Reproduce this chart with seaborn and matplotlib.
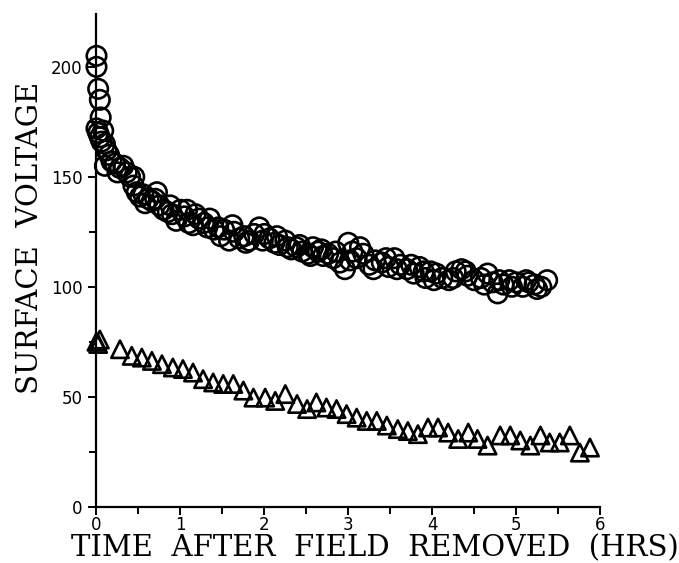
import matplotlib
matplotlib.use("Agg")
import matplotlib.pyplot as plt
import seaborn as sns
import pandas as pd
from matplotlib.ticker import MultipleLocator

# Circles (upper series)
circle_hours = [0.00, 0.00, 0.02, 0.04, 0.05, 0.00, 0.02, 0.04, 0.06, 0.08,
                0.10, 0.12, 0.10, 0.18, 0.22, 0.28, 0.32, 0.36, 0.40, 0.44,
                0.48, 0.52, 0.56, 0.62, 0.66, 0.70, 0.75, 0.80, 0.85, 0.90,
                0.95, 1.00, 1.05, 1.10, 1.15, 1.22, 1.28, 1.35, 1.40, 1.45,
                1.52, 1.58, 1.64, 1.70, 1.76, 1.82, 1.88, 1.94, 2.00, 2.06,
                2.12, 2.18, 2.25, 2.32, 2.38, 2.45, 2.52, 2.58, 2.64, 2.70,
                2.76, 2.82, 2.90, 2.96, 3.00, 3.05, 3.10, 3.18, 3.25, 3.32,
                3.40, 3.48, 3.55, 3.62, 3.70, 3.78, 3.85, 3.92, 3.98, 4.05,
                4.12, 4.20, 4.28, 4.35, 4.42, 4.50, 4.58, 4.66, 4.72, 4.78,
                4.85, 4.92, 5.00, 5.08, 5.15, 5.22, 5.30, 5.37,
                0.15, 0.25, 0.45, 0.58, 0.72, 0.88, 1.08, 1.18, 1.32, 1.48,
                1.62, 1.78, 1.98, 2.15, 2.28, 2.42, 2.55, 2.68, 2.85, 3.02,
                3.14, 3.30, 3.45, 3.58, 3.75, 3.90, 4.02, 4.25, 4.40, 4.62,
                4.80, 4.95, 5.12, 5.25]
circle_volts = [205, 200, 190, 185, 177, 172, 170, 168, 166, 171,
                165, 162, 155, 157, 156, 154, 155, 152, 150, 146,
                143, 141, 142, 140, 139, 140, 137, 135, 134, 133,
                130, 135, 132, 129, 128, 131, 129, 131, 126, 127,
                126, 121, 125, 122, 123, 121, 124, 127, 124, 122,
                120, 119, 121, 117, 118, 116, 115, 118, 116, 114,
                115, 113, 111, 108, 120, 116, 113, 115, 110, 112,
                111, 109, 113, 110, 108, 106, 109, 104, 107, 106,
                104, 103, 107, 108, 105, 103, 104, 106, 102, 97,
                101, 103, 102, 100, 102, 101, 100, 103,
                160, 152, 150, 138, 143, 137, 135, 133, 127, 123,
                128, 120, 121, 123, 118, 119, 114, 117, 116, 112,
                118, 108, 113, 108, 110, 107, 103, 104, 107, 101,
                103, 100, 103, 99]

# Triangles (lower series)
tri_hours = [0.00, 0.02, 0.04, 0.28, 0.42, 0.54, 0.66, 0.78, 0.91, 1.03,
             1.15, 1.27, 1.39, 1.51, 1.63, 1.75, 1.87, 2.01, 2.13, 2.25,
             2.39, 2.51, 2.62, 2.74, 2.86, 2.98, 3.10, 3.22, 3.34, 3.46,
             3.59, 3.71, 3.83, 3.95, 4.07, 4.19, 4.31, 4.43, 4.54, 4.66,
             4.81, 4.93, 5.05, 5.17, 5.29, 5.40, 5.52, 5.64, 5.76, 5.88]
tri_volts = [75, 74, 76, 71.6, 68.6, 67.8, 66.3, 64.8, 63.3, 62.6,
             61, 58, 56.5, 55.8, 55.8, 52.8, 49.6, 49.6, 48.1, 51.2,
             46.7, 44.4, 47.4, 45.1, 44.4, 42.1, 40.5, 39, 39, 36.9,
             35.3, 34.4, 33, 36, 36, 33.7, 30.8, 33.7, 30.8, 27.8,
             32.4, 32.4, 30.1, 27.8, 32.4, 29.2, 29.2, 32.4, 24.6, 26.9]

x_ticks = [0, 1, 2, 3, 4, 5, 6]
y_ticks = [0, 50, 100, 150, 200]

circ = pd.DataFrame({"hours": circle_hours, "volts": circle_volts})
tri = pd.DataFrame({"hours": tri_hours, "volts": tri_volts})

sns.set_style("ticks")
plt.rcParams["font.family"] = ["DejaVu Sans"]
plt.rcParams["text.color"] = "black"
plt.rcParams["axes.labelcolor"] = "black"

fig = plt.figure(figsize=(6.79, 5.63), dpi=100)
ax = fig.add_axes([0.1421, 0.1000, 0.7416, 0.8750])

sns.scatterplot(data=circ, x="hours", y="volts", marker="o", s=14**2,
                facecolors="none", edgecolor="black", linewidth=1.9,
                ax=ax, clip_on=False, zorder=3)
sns.scatterplot(data=tri, x="hours", y="volts", marker="^", s=12.5**2,
                facecolors="none", edgecolor="black", linewidth=1.9,
                ax=ax, clip_on=False, zorder=3)

ax.set_xlim(0, 6)
ax.set_ylim(0, 224)
ax.set_xticks(x_ticks)
ax.set_yticks(y_ticks)
ax.xaxis.set_minor_locator(MultipleLocator(0.5))
ax.yaxis.set_minor_locator(MultipleLocator(25))
sns.despine(ax=ax)
for sp in ("left", "bottom"):
    ax.spines[sp].set_linewidth(1.6)
    ax.spines[sp].set_color("black")
ax.tick_params(which="both", direction="out", width=1.4, color="black",
               labelsize=12, labelcolor="black")
ax.tick_params(axis="x", pad=1)
ax.tick_params(axis="y", pad=4)
ax.tick_params(which="major", length=6)
ax.tick_params(which="minor", length=5)

ax.set_xlabel("TIME  AFTER  FIELD  REMOVED  (HRS)", fontfamily="DejaVu Serif",
              fontsize=21, color="black")
ax.set_ylabel("SURFACE  VOLTAGE", fontfamily="DejaVu Serif", fontsize=21,
              color="black")
ax.xaxis.set_label_coords(0.553, -0.084)
ax.yaxis.set_label_coords(-0.132, 0.545)
ax.xaxis.label.set_va("center")
ax.yaxis.label.set_va("center")

fig.savefig("out.png", dpi=100)
